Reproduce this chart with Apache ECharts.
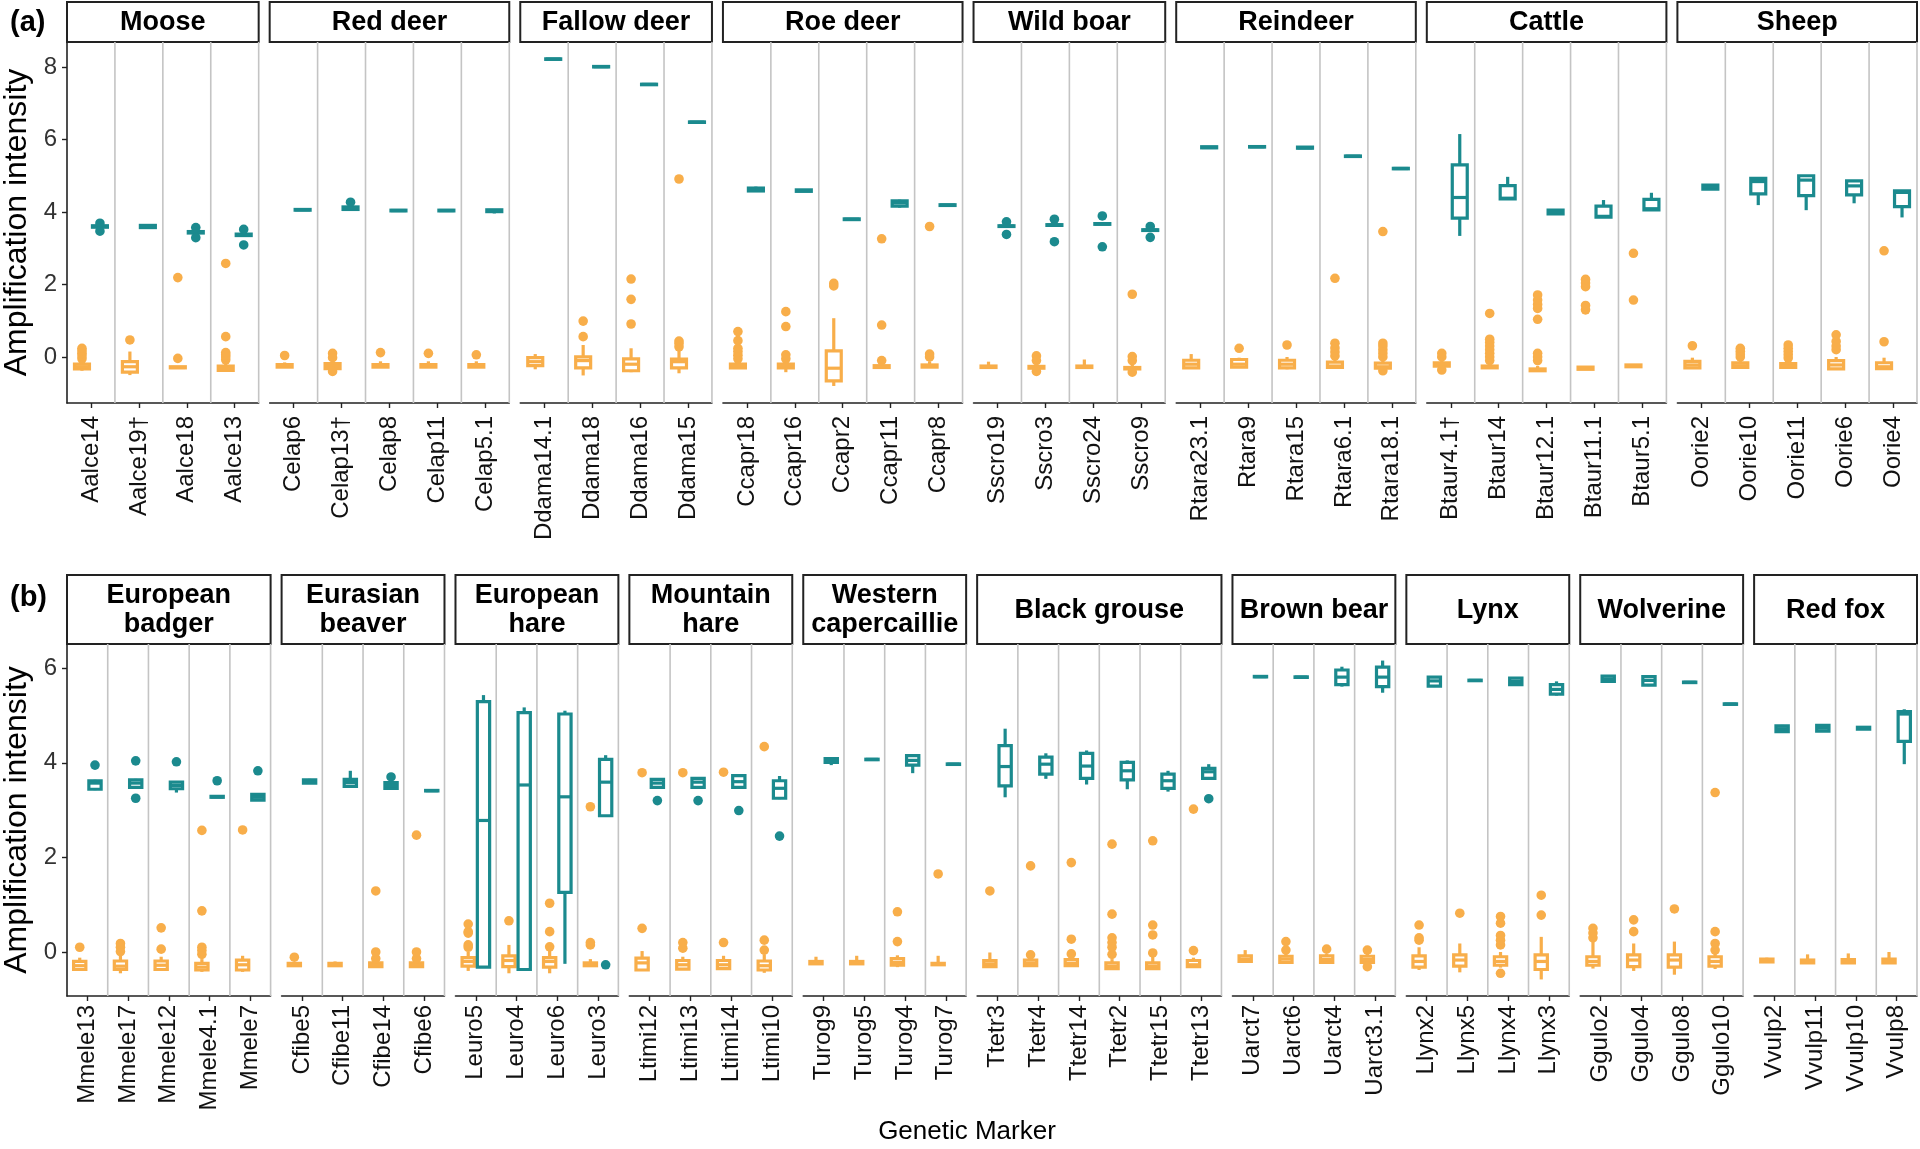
<!DOCTYPE html>
<html>
<head>
<meta charset="utf-8">
<script src="https://cdn.jsdelivr.net/npm/echarts@6/dist/echarts.min.js"></script>
<style>
	html, body { margin: 0; padding: 0; background: #fff; }
	#chart { width: 1920px; height: 1149px; }
</style>
</head>
<body>
<div id="chart"></div>
<script>
// box stats are [min, q1, median, q3, max]; outliers are [markerIndex, value]
// orange = low group (near 0), teal = high group

var yTicksA = [0, 2, 4, 6, 8];
var yTicksB = [0, 2, 4, 6];

// ---------- row (a) ----------
var mooseMarkers = ['Aalce14', 'Aalce19†', 'Aalce18', 'Aalce13'];
var mooseLow = [[-0.38, -0.33, -0.27, -0.2, -0.1], [-0.5, -0.42, -0.27, -0.13, 0.15], [-0.32, -0.3, -0.29, -0.27, -0.25], [-0.4, -0.37, -0.32, -0.25, -0.15]];
var mooseHigh = [[3.56, 3.58, 3.6, 3.62, 3.64], [3.56, 3.57, 3.6, 3.63, 3.66], [3.4, 3.42, 3.44, 3.46, 3.48], [3.33, 3.35, 3.37, 3.39, 3.41]];
var mooseLowOut = [[0, -0.05], [0, 0.03], [0, 0.1], [0, 0.17], [0, 0.24], [1, 0.47], [2, -0.04], [2, 2.19], [3, -0.08], [3, 0], [3, 0.06], [3, 0.12], [3, 0.56], [3, 2.58]];
var mooseHighOut = [[0, 3.69], [0, 3.47], [2, 3.57], [2, 3.29], [3, 3.52], [3, 3.09]];

var redDeerMarkers = ['Celap6', 'Celap13†', 'Celap8', 'Celap11', 'Celap5.1'];
var redDeerLow = [[-0.3, -0.28, -0.25, -0.21, -0.15], [-0.35, -0.32, -0.26, -0.18, -0.1], [-0.3, -0.28, -0.25, -0.21, -0.12], [-0.3, -0.28, -0.25, -0.21, -0.12], [-0.3, -0.28, -0.25, -0.21, -0.12]];
var redDeerHigh = [[4.04, 4.05, 4.06, 4.07, 4.08], [4.06, 4.07, 4.1, 4.14, 4.17], [4.02, 4.03, 4.04, 4.05, 4.06], [4.02, 4.03, 4.04, 4.05, 4.07], [3.96, 4.01, 4.04, 4.06, 4.08]];
var redDeerLowOut = [[0, 0.04], [1, 0.1], [1, -0.02], [1, -0.4], [2, 0.12], [3, 0.1], [4, 0.06]];
var redDeerHighOut = [[1, 4.27]];

var fallowMarkers = ['Ddama14.1', 'Ddama18', 'Ddama16', 'Ddama15'];
var fallowLow = [[-0.34, -0.24, -0.13, -0.02, 0.08], [-0.51, -0.3, -0.1, 0, 0.33], [-0.42, -0.38, -0.2, -0.05, 0.24], [-0.45, -0.3, -0.13, -0.06, 0.2]];
var fallowHigh = [[8.21, 8.215, 8.22, 8.225, 8.23], [8, 8.005, 8.01, 8.015, 8.02], [7.51, 7.515, 7.52, 7.525, 7.53], [6.47, 6.475, 6.48, 6.485, 6.49]];
var fallowLowOut = [[1, 0.56], [1, 0.99], [2, 0.91], [2, 1.59], [2, 2.15], [3, 0.28], [3, 0.37], [3, 0.44], [3, 4.91]];
var fallowHighOut = [];

var roeMarkers = ['Ccapr18', 'Ccapr16', 'Ccapr2', 'Ccapr11', 'Ccapr8'];
var roeLow = [[-0.32, -0.3, -0.25, -0.2, -0.1], [-0.42, -0.3, -0.25, -0.2, -0.1], [-0.8, -0.66, -0.31, 0.17, 1.07], [-0.31, -0.29, -0.27, -0.24, -0.15], [-0.3, -0.28, -0.25, -0.22, -0.12]];
var roeHigh = [[4.56, 4.58, 4.62, 4.66, 4.7], [4.56, 4.57, 4.59, 4.61, 4.62], [3.78, 3.79, 3.8, 3.81, 3.82], [4.12, 4.16, 4.25, 4.31, 4.34], [4.17, 4.18, 4.19, 4.2, 4.21]];
var roeLowOut = [[0, -0.05], [0, 0.05], [0, 0.15], [0, 0.24], [0, 0.45], [0, 0.7], [1, -0.05], [1, 0.06], [1, 0.84], [1, 1.25], [2, 1.96], [2, 2.03], [3, -0.1], [3, 0.88], [3, 3.26], [4, 0], [4, 0.08], [4, 3.6]];
var roeHighOut = [];

var boarMarkers = ['Sscro19', 'Sscro3', 'Sscro24', 'Sscro9'];
var boarLow = [[-0.3, -0.29, -0.27, -0.25, -0.13], [-0.32, -0.31, -0.28, -0.26, -0.2], [-0.3, -0.29, -0.27, -0.25, -0.07], [-0.35, -0.33, -0.31, -0.29, -0.2]];
var boarHigh = [[3.59, 3.6, 3.61, 3.62, 3.63], [3.62, 3.63, 3.64, 3.65, 3.66], [3.65, 3.66, 3.67, 3.68, 3.69], [3.48, 3.49, 3.5, 3.51, 3.52]];
var boarLowOut = [[1, 0.03], [1, -0.1], [1, -0.4], [3, 0.01], [3, -0.1], [3, -0.42], [3, 1.73]];
var boarHighOut = [[0, 3.73], [0, 3.38], [1, 3.8], [1, 3.18], [2, 3.89], [2, 3.04], [3, 3.6], [3, 3.3]];

var reindeerMarkers = ['Rtara23.1', 'Rtara9', 'Rtara15', 'Rtara6.1', 'Rtara18.1'];
var reindeerLow = [[-0.33, -0.3, -0.2, -0.09, 0.08], [-0.3, -0.28, -0.2, -0.07, -0.02], [-0.34, -0.3, -0.2, -0.09, 0], [-0.32, -0.29, -0.25, -0.14, -0.05], [-0.33, -0.31, -0.27, -0.17, -0.08]];
var reindeerHigh = [[5.76, 5.77, 5.78, 5.8, 5.81], [5.79, 5.795, 5.8, 5.805, 5.81], [5.75, 5.76, 5.77, 5.79, 5.8], [5.53, 5.535, 5.54, 5.545, 5.55], [5.19, 5.195, 5.2, 5.205, 5.21]];
var reindeerLowOut = [[1, 0.24], [2, 0.33], [3, 0.03], [3, 0.14], [3, 0.25], [3, 0.38], [3, 2.17], [4, 0], [4, 0.1], [4, 0.2], [4, 0.3], [4, 0.38], [4, -0.38], [4, 3.46]];
var reindeerHighOut = [];

var cattleMarkers = ['Btaur4.1†', 'Btaur14', 'Btaur12.1', 'Btaur11.1', 'Btaur5.1'];
var cattleLow = [[-0.3, -0.25, -0.2, -0.16, -0.1], [-0.31, -0.3, -0.27, -0.25, -0.2], [-0.4, -0.38, -0.36, -0.33, -0.25], [-0.35, -0.34, -0.31, -0.28, -0.26], [-0.29, -0.27, -0.25, -0.22, -0.2]];
var cattleHigh = [[3.34, 3.83, 4.4, 5.3, 6.15], [4.36, 4.36, 4.38, 4.73, 4.97], [3.92, 3.95, 4, 4.05, 4.08], [3.85, 3.86, 3.88, 4.16, 4.33], [4.06, 4.06, 4.09, 4.35, 4.53]];
var cattleLowOut = [[0, 0], [0, 0.1], [0, -0.36], [1, -0.1], [1, 0], [1, 0.1], [1, 0.2], [1, 0.3], [1, 0.4], [1, 0.49], [1, 1.2], [2, -0.1], [2, 0], [2, 0.1], [2, 1.04], [2, 1.34], [2, 1.45], [2, 1.57], [2, 1.71], [3, 1.3], [3, 1.42], [3, 1.94], [3, 2.04], [3, 2.14], [4, 1.57], [4, 2.86]];
var cattleHighOut = [];

var sheepMarkers = ['Oorie2', 'Oorie10', 'Oorie11', 'Oorie6', 'Oorie4'];
var sheepLow = [[-0.32, -0.3, -0.22, -0.12, -0.02], [-0.31, -0.29, -0.24, -0.16, -0.08], [-0.31, -0.29, -0.24, -0.18, -0.1], [-0.36, -0.33, -0.22, -0.1, 0], [-0.34, -0.32, -0.27, -0.16, -0.02]];
var sheepHigh = [[4.62, 4.63, 4.68, 4.74, 4.75], [4.19, 4.5, 4.84, 4.93, 4.96], [4.05, 4.45, 4.88, 5, 5.02], [4.24, 4.47, 4.72, 4.86, 4.88], [3.85, 4.15, 4.54, 4.58, 4.6]];
var sheepLowOut = [[0, 0.31], [1, 0], [1, 0.08], [1, 0.16], [1, 0.24], [2, -0.03], [2, 0.06], [2, 0.15], [2, 0.24], [2, 0.33], [3, 0.2], [3, 0.3], [3, 0.43], [3, 0.61], [4, 0.42], [4, 2.93]];
var sheepHighOut = [];

// ---------- row (b) ----------
var badgerMarkers = ['Mmele13', 'Mmele17', 'Mmele12', 'Mmele4.1', 'Mmele7'];
var badgerLow = [[-0.38, -0.37, -0.29, -0.2, -0.12], [-0.45, -0.37, -0.3, -0.19, -0.08], [-0.4, -0.37, -0.28, -0.19, -0.1], [-0.42, -0.38, -0.32, -0.24, -0.15], [-0.42, -0.38, -0.27, -0.17, -0.08]];
var badgerHigh = [[3.42, 3.44, 3.57, 3.62, 3.64], [3.46, 3.48, 3.57, 3.64, 3.66], [3.37, 3.45, 3.52, 3.59, 3.6], [3.26, 3.27, 3.28, 3.29, 3.3], [3.2, 3.21, 3.27, 3.33, 3.35]];
var badgerLowOut = [[0, 0.1], [1, 0.01], [1, 0.1], [1, 0.18], [2, 0.06], [2, 0.51], [3, -0.05], [3, 0.03], [3, 0.1], [3, 0.87], [3, 2.57], [4, 2.58]];
var badgerHighOut = [[0, 3.95], [1, 4.04], [1, 3.25], [2, 4.02], [3, 3.62], [4, 3.83]];

var beaverMarkers = ['Cfibe5', 'Cfibe11', 'Cfibe14', 'Cfibe6'];
var beaverLow = [[-0.3, -0.29, -0.26, -0.24, -0.21], [-0.31, -0.29, -0.26, -0.24, -0.2], [-0.32, -0.31, -0.27, -0.23, -0.2], [-0.32, -0.31, -0.27, -0.23, -0.2]];
var beaverHigh = [[3.56, 3.57, 3.6, 3.64, 3.66], [3.48, 3.5, 3.58, 3.65, 3.83], [3.45, 3.46, 3.52, 3.58, 3.6], [3.4, 3.405, 3.41, 3.415, 3.42]];
var beaverLowOut = [[0, -0.11], [2, -0.14], [2, 0], [2, 1.29], [3, -0.14], [3, 0], [3, 2.47]];
var beaverHighOut = [[2, 3.7]];

var hareMarkers = ['Leuro5', 'Leuro4', 'Leuro6', 'Leuro3'];
var hareLow = [[-0.4, -0.3, -0.2, -0.12, 0], [-0.45, -0.31, -0.18, -0.08, 0.15], [-0.45, -0.32, -0.2, -0.12, 0.05], [-0.3, -0.29, -0.26, -0.23, -0.15]];
var hareHigh = [[-0.32, -0.32, 2.78, 5.29, 5.43], [-0.37, -0.37, 3.53, 5.06, 5.17], [-0.25, 1.26, 3.28, 5.03, 5.1], [2.88, 2.88, 3.59, 4.07, 4.16]];
var hareLowOut = [[0, 0.1], [0, 0.15], [0, 0.4], [0, 0.43], [0, 0.59], [1, 0.66], [2, 0.11], [2, 0.43], [2, 1.03], [3, 0.15], [3, 0.2], [3, 3.07]];
var hareHighOut = [[3, -0.27]];

var mtHareMarkers = ['Ltimi12', 'Ltimi13', 'Ltimi14', 'Ltimi10'];
var mtHareLow = [[-0.4, -0.38, -0.23, -0.13, 0.02], [-0.38, -0.36, -0.27, -0.18, -0.1], [-0.36, -0.35, -0.27, -0.18, -0.08], [-0.44, -0.38, -0.29, -0.19, -0.05]];
var mtHareHigh = [[3.46, 3.48, 3.57, 3.65, 3.67], [3.46, 3.48, 3.59, 3.67, 3.69], [3.46, 3.48, 3.6, 3.73, 3.75], [3.23, 3.25, 3.46, 3.62, 3.72]];
var mtHareLowOut = [[0, 0.5], [0, 3.79], [1, 0.08], [1, 0.2], [1, 3.79], [2, 0.2], [2, 3.8], [3, 0.04], [3, 0.25], [3, 4.34]];
var mtHareHighOut = [[0, 3.2], [1, 3.2], [2, 2.99], [3, 2.45]];

var caperMarkers = ['Turog9', 'Turog5', 'Turog4', 'Turog7'];
var caperLow = [[-0.26, -0.25, -0.23, -0.2, -0.1], [-0.26, -0.25, -0.23, -0.2, -0.08], [-0.32, -0.28, -0.22, -0.14, -0.07], [-0.28, -0.27, -0.26, -0.24, -0.08]];
var caperHigh = [[3.95, 4.01, 4.05, 4.09, 4.1], [4.06, 4.065, 4.07, 4.075, 4.08], [3.78, 3.95, 4.05, 4.15, 4.17], [3.96, 3.965, 3.97, 3.975, 3.98]];
var caperLowOut = [[2, 0.22], [2, 0.85], [3, 1.65]];
var caperHighOut = [];

var grouseMarkers = ['Ttetr3', 'Ttetr4', 'Ttetr14', 'Ttetr2', 'Ttetr15', 'Ttetr13'];
var grouseLow = [[-0.33, -0.31, -0.25, -0.18, -0.01], [-0.3, -0.29, -0.24, -0.17, -0.1], [-0.3, -0.29, -0.24, -0.16, -0.1], [-0.36, -0.35, -0.3, -0.23, -0.15], [-0.37, -0.35, -0.3, -0.23, -0.1], [-0.33, -0.31, -0.27, -0.18, -0.12]];
var grouseHigh = [[3.27, 3.51, 3.92, 4.36, 4.72], [3.66, 3.76, 3.97, 4.12, 4.2], [3.54, 3.67, 3.93, 4.2, 4.26], [3.44, 3.64, 3.83, 4.01, 4.05], [3.39, 3.46, 3.62, 3.76, 3.83], [3.67, 3.67, 3.81, 3.88, 3.97]];
var grouseLowOut = [[0, 1.29], [1, -0.06], [1, 1.82], [2, -0.04], [2, 0.27], [2, 1.89], [3, -0.05], [3, 0.1], [3, 0.2], [3, 0.3], [3, 0.8], [3, 2.28], [4, -0.02], [4, 0.36], [4, 0.57], [4, 2.35], [5, 0.03], [5, 3.02]];
var grouseHighOut = [[5, 3.24]];

var bearMarkers = ['Uarct7', 'Uarct6', 'Uarct4', 'Uarct3.1'];
var bearLow = [[-0.22, -0.2, -0.15, -0.08, 0.04], [-0.25, -0.22, -0.15, -0.09, -0.02], [-0.24, -0.22, -0.16, -0.08, -0.04], [-0.26, -0.22, -0.16, -0.09, -0.02]];
var bearHigh = [[5.81, 5.815, 5.82, 5.825, 5.83], [5.8, 5.805, 5.81, 5.815, 5.82], [5.61, 5.65, 5.81, 5.96, 6.03], [5.48, 5.61, 5.81, 6.02, 6.16]];
var bearLowOut = [[1, 0.04], [1, 0.22], [2, 0.06], [3, 0.04], [3, -0.31]];
var bearHighOut = [];

var lynxMarkers = ['Llynx2', 'Llynx5', 'Llynx4', 'Llynx3'];
var lynxLow = [[-0.38, -0.32, -0.2, -0.08, 0.1], [-0.43, -0.3, -0.17, -0.06, 0.18], [-0.33, -0.28, -0.2, -0.1, 0], [-0.58, -0.37, -0.2, -0.06, 0.32]];
var lynxHigh = [[5.6, 5.62, 5.73, 5.81, 5.83], [5.73, 5.735, 5.74, 5.745, 5.75], [5.64, 5.65, 5.72, 5.79, 5.8], [5.42, 5.45, 5.55, 5.65, 5.72]];
var lynxLowOut = [[0, 0.25], [0, 0.3], [0, 0.57], [1, 0.82], [2, 0.15], [2, 0.25], [2, 0.35], [2, 0.61], [2, 0.75], [2, -0.45], [3, 0.78], [3, 1.2]];
var lynxHighOut = [];

var wolverineMarkers = ['Ggulo2', 'Ggulo4', 'Ggulo8', 'Ggulo10'];
var wolverineLow = [[-0.35, -0.28, -0.2, -0.1, 0.25], [-0.4, -0.31, -0.17, -0.06, 0.18], [-0.48, -0.32, -0.17, -0.06, 0.22], [-0.36, -0.3, -0.2, -0.1, -0.04]];
var wolverineHigh = [[5.71, 5.72, 5.77, 5.83, 5.84], [5.62, 5.64, 5.74, 5.82, 5.84], [5.69, 5.695, 5.7, 5.705, 5.71], [5.23, 5.235, 5.24, 5.245, 5.25]];
var wolverineLowOut = [[0, 0.3], [0, 0.4], [0, 0.5], [1, 0.43], [1, 0.68], [2, 0.91], [3, 0.04], [3, 0.18], [3, 0.43], [3, 3.37]];
var wolverineHighOut = [];

var foxMarkers = ['Vvulp2', 'Vvulp11', 'Vvulp10', 'Vvulp8'];
var foxLow = [[-0.22, -0.21, -0.18, -0.15, -0.12], [-0.25, -0.23, -0.2, -0.17, -0.05], [-0.25, -0.23, -0.2, -0.16, -0.03], [-0.25, -0.23, -0.2, -0.15, 0]];
var foxHigh = [[4.65, 4.66, 4.72, 4.78, 4.8], [4.66, 4.67, 4.73, 4.79, 4.81], [4.7, 4.71, 4.73, 4.75, 4.76], [3.97, 4.45, 5.03, 5.08, 5.13]];
var foxLowOut = [];
var foxHighOut = [];

// ---------- layout ----------
var ORANGE = '#F8AE4A';
var TEAL = '#1B8A8E';
var GREY_LINE = '#c4c4c4';
var FONT = '"Liberation Sans", Arial, sans-serif';
var LEFT = 67, RIGHT = 1917, GAP = 11;
var DODGE = 0.1875;

var rowA = {
	yMin: -1.27, yMax: 8.69, ticks: yTicksA, labelMargin: 13,
	stripTop: 2, plotTop: 42, plotBottom: 403,
	panels: [
		['Moose', mooseMarkers, mooseLow, mooseHigh, mooseLowOut, mooseHighOut],
		['Red deer', redDeerMarkers, redDeerLow, redDeerHigh, redDeerLowOut, redDeerHighOut],
		['Fallow deer', fallowMarkers, fallowLow, fallowHigh, fallowLowOut, fallowHighOut],
		['Roe deer', roeMarkers, roeLow, roeHigh, roeLowOut, roeHighOut],
		['Wild boar', boarMarkers, boarLow, boarHigh, boarLowOut, boarHighOut],
		['Reindeer', reindeerMarkers, reindeerLow, reindeerHigh, reindeerLowOut, reindeerHighOut],
		['Cattle', cattleMarkers, cattleLow, cattleHigh, cattleLowOut, cattleHighOut],
		['Sheep', sheepMarkers, sheepLow, sheepHigh, sheepLowOut, sheepHighOut]
	]
};
var rowB = {
	yMin: -0.93, yMax: 6.51, ticks: yTicksB, labelMargin: 9,
	stripTop: 575, plotTop: 644, plotBottom: 996,
	panels: [
		['European\nbadger', badgerMarkers, badgerLow, badgerHigh, badgerLowOut, badgerHighOut],
		['Eurasian\nbeaver', beaverMarkers, beaverLow, beaverHigh, beaverLowOut, beaverHighOut],
		['European\nhare', hareMarkers, hareLow, hareHigh, hareLowOut, hareHighOut],
		['Mountain\nhare', mtHareMarkers, mtHareLow, mtHareHigh, mtHareLowOut, mtHareHighOut],
		['Western\ncapercaillie', caperMarkers, caperLow, caperHigh, caperLowOut, caperHighOut],
		['Black grouse', grouseMarkers, grouseLow, grouseHigh, grouseLowOut, grouseHighOut],
		['Brown bear', bearMarkers, bearLow, bearHigh, bearLowOut, bearHighOut],
		['Lynx', lynxMarkers, lynxLow, lynxHigh, lynxLowOut, lynxHighOut],
		['Wolverine', wolverineMarkers, wolverineLow, wolverineHigh, wolverineLowOut, wolverineHighOut],
		['Red fox', foxMarkers, foxLow, foxHigh, foxLowOut, foxHighOut]
	]
};

var grids = [], xAxes = [], yAxes = [], series = [], graphics = [];

// box + whiskers, drawn with the axis scales
function boxSeries(gi, stats, offset, color, drawSeparators) {
	var data = stats.map(function (s, i) { return [i].concat(s); });
	return {
		type: 'custom',
		xAxisIndex: gi,
		yAxisIndex: gi,
		silent: true,
		animation: false,
		clip: false,
		encode: { x: 0, y: [1, 2, 3, 4, 5] },
		data: data,
		renderItem: function (params, api) {
			var idx = api.value(0);
			var band = api.size([1, 0])[0];
			var cx = api.coord([idx, 0])[0];
			var x = cx + offset * band;
			var w = band * 0.375 - 3;
			var yMin = api.coord([idx, api.value(1)])[1];
			var yQ1 = api.coord([idx, api.value(2)])[1];
			var yMed = api.coord([idx, api.value(3)])[1];
			var yQ3 = api.coord([idx, api.value(4)])[1];
			var yMax = api.coord([idx, api.value(5)])[1];
			var ls = { stroke: color, lineWidth: 3.2, lineCap: 'butt' };
			var children = [];
			if (drawSeparators) {
				var cs = params.coordSys;
				children.push({
					type: 'line',
					shape: { x1: cx + band / 2, y1: cs.y, x2: cx + band / 2, y2: cs.y + cs.height },
					style: { stroke: GREY_LINE, lineWidth: 1.6 }
				});
			}
			children.push(
				{ type: 'line', shape: { x1: x, y1: yQ3, x2: x, y2: yMax }, style: ls },
				{ type: 'line', shape: { x1: x, y1: yQ1, x2: x, y2: yMin }, style: ls },
				{ type: 'rect', shape: { x: x - w / 2, y: yQ3, width: w, height: Math.max(yQ1 - yQ3, 0.5) },
					style: { fill: '#fff', stroke: color, lineWidth: 3.2 } },
				{ type: 'line', shape: { x1: x - w / 2, y1: yMed, x2: x + w / 2, y2: yMed }, style: ls }
			);
			return { type: 'group', children: children };
		}
	};
}

// outlier dots
function outSeries(gi, points, offset, color) {
	return {
		type: 'custom',
		xAxisIndex: gi,
		yAxisIndex: gi,
		silent: true,
		animation: false,
		clip: false,
		encode: { x: 0, y: 1 },
		data: points,
		renderItem: function (params, api) {
			var band = api.size([1, 0])[0];
			var p = api.coord([api.value(0), api.value(1)]);
			return {
				type: 'circle',
				shape: { cx: p[0] + offset * band, cy: p[1], r: 4.8 },
				style: { fill: color }
			};
		}
	};
}

function addRow(row) {
	var total = 0;
	row.panels.forEach(function (p) { total += p[1].length; });
	var unit = (RIGHT - LEFT - GAP * (row.panels.length - 1)) / total;
	var x = LEFT;
	row.panels.forEach(function (p, k) {
		var w = unit * p[1].length;
		var gi = grids.length;
		grids.push({ left: x, top: row.plotTop, width: w, height: row.plotBottom - row.plotTop });
		xAxes.push({
			type: 'category',
			gridIndex: gi,
			data: p[1],
			axisLine: { show: true, onZero: false, lineStyle: { color: '#222', width: 1.6 } },
			axisTick: { show: true, alignWithLabel: true, length: 5, lineStyle: { color: '#222', width: 1.4 } },
			axisLabel: { rotate: 90, interval: 0, fontSize: 24, color: '#111', margin: row.labelMargin, fontFamily: FONT },
			splitLine: { show: false }
		});
		yAxes.push({
			type: 'value',
			gridIndex: gi,
			min: row.yMin,
			max: row.yMax,
			show: k === 0,
			axisLine: { show: true, onZero: false, lineStyle: { color: '#222', width: 1.6 } },
			axisTick: { show: true, length: 5, customValues: row.ticks, lineStyle: { color: '#222', width: 1.4 } },
			axisLabel: { show: true, fontSize: 24, color: '#333', margin: 10, fontFamily: FONT, customValues: row.ticks },
			splitLine: { show: false }
		});
		series.push(boxSeries(gi, p[2], -DODGE, ORANGE, true));
		series.push(boxSeries(gi, p[3], DODGE, TEAL, false));
		series.push(outSeries(gi, p[4], -DODGE, ORANGE));
		series.push(outSeries(gi, p[5], DODGE, TEAL));

		// facet strip
		graphics.push({
			type: 'rect',
			shape: { x: x, y: row.stripTop, width: w, height: row.plotTop - row.stripTop },
			style: { fill: '#fff', stroke: '#222', lineWidth: 2 }
		});
		graphics.push({
			type: 'text',
			x: x + w / 2,
			y: (row.stripTop + row.plotTop) / 2 + 1,
			style: {
				text: p[0], fill: '#000', font: 'bold 27px ' + FONT, lineHeight: 29,
				align: 'center', verticalAlign: 'middle', textAlign: 'center', textVerticalAlign: 'middle'
			}
		});
		x += w + GAP;
	});
}

addRow(rowA);
addRow(rowB);

// titles
function label(text, x, y, font, rot, align) {
	return {
		type: 'text', x: x, y: y, rotation: rot || 0,
		style: {
			text: text, fill: '#000', font: font,
			align: align || 'center', verticalAlign: 'middle',
			textAlign: align || 'center', textVerticalAlign: 'middle'
		}
	};
}
graphics.push(label('(a)', 10, 23, 'bold 29px ' + FONT, 0, 'left'));
graphics.push(label('(b)', 10, 598, 'bold 29px ' + FONT, 0, 'left'));
graphics.push(label('Amplification intensity', 17, (rowA.plotTop + rowA.plotBottom) / 2, '32px ' + FONT, Math.PI / 2));
graphics.push(label('Amplification intensity', 17, (rowB.plotTop + rowB.plotBottom) / 2, '32px ' + FONT, Math.PI / 2));
graphics.push(label('Genetic Marker', 967, 1132, '26px ' + FONT));

var chart = echarts.init(document.getElementById('chart'));
chart.setOption({
	backgroundColor: '#fff',
	animation: false,
	grid: grids,
	xAxis: xAxes,
	yAxis: yAxes,
	series: series,
	graphic: graphics
});
</script>
</body>
</html>
